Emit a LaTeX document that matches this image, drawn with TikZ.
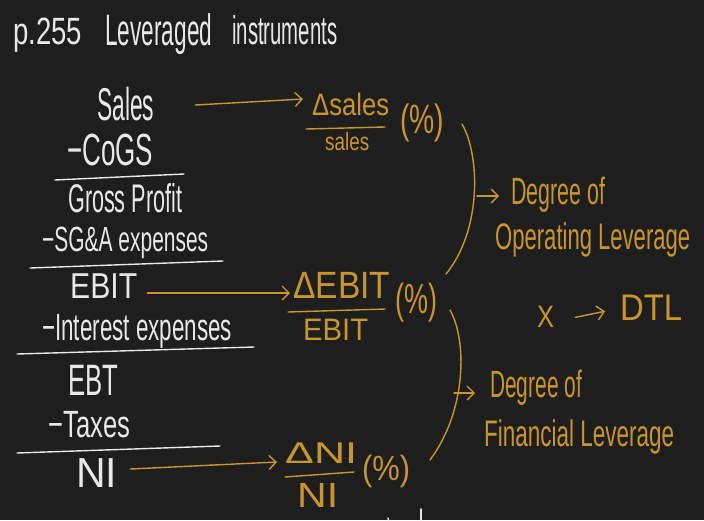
\documentclass[tikz,border=0pt]{standalone}
\usepackage{fontspec}
\setmainfont{Liberation Sans}
\usepackage{graphicx}
\usetikzlibrary{arrows.meta}
\definecolor{bg}{RGB}{30,30,30}
\definecolor{ink}{RGB}{232,232,232}
\definecolor{gold}{RGB}{201,150,43}
\newcommand\hw[2]{\resizebox{#1pt}{\height}{#2}}
\newcommand\fs[1]{\fontsize{#1}{#1}\selectfont}
\begin{document}
\begin{tikzpicture}[x=1pt,y=-1pt,
  wt/.style={inner sep=0pt,anchor=base west,text=ink},
  gt/.style={inner sep=0pt,anchor=base west,text=gold},
  wline/.style={draw=ink,line width=1.4pt,line cap=round},
  gline/.style={draw=gold,line width=1.4pt,line cap=round},
  garr/.style={gline,-{Straight Barb[length=7pt,width=14pt]}},
]
\fill[bg] (0,0) rectangle (704,520);
\useasboundingbox (0,0) rectangle (704,520);

% title
\node[wt,font=\fs{38}] (pg) at (13,44) {\hw{69}{p.255}};
\node[wt,font=\fs{44}] (lev) at (105,45) {\hw{107}{Leveraged}};
\node[wt,font=\fs{40}] (ins) at (232,44) {\hw{105}{instruments}};

% income statement
\node[wt,font=\fs{46}] (sales) at (97,120) {\hw{57}{Sales}};
\node[wt,font=\fs{45}] (cogs) at (67,165) {\hw{86}{−CoGS}};
\draw[wline] (55,180) -- (184,174);
\node[wt,font=\fs{40}] (gp) at (68,212) {\hw{114}{Gross Profit}};
\node[wt,font=\fs{35}] (sga) at (42,251) {\hw{166}{−SG\&A expenses}};
\draw[wline] (30,268) -- (223,261);
\node[wt,font=\fs{36}] (ebit) at (70,298) {\hw{67}{EBIT}};
\node[wt,font=\fs{38}] (intexp) at (42,340) {\hw{190}{−Interest expenses}};
\draw[wline] (17,354) -- (254,347);
\node[wt,font=\fs{44}] (ebt) at (68,395) {\hw{50}{EBT}};
\node[wt,font=\fs{38}] (tax) at (48,437) {\hw{82}{−Taxes}};
\draw[wline] (17,453) -- (220,446);
\node[wt,font=\fs{42}] (ni) at (76,487) {\hw{41}{NI}};

% sales ratio
\node[gt,font=\fs{31}] (dsales) at (312,115) {\hw{77}{Δsales}};
\draw[gline] (306,129) -- (385,127);
\node[gt,font=\fs{25}] (salesd) at (325,150) {\hw{44}{sales}};
\node[gt,font=\fs{41}] (pc1) at (400,133) {\hw{44}{(\%)}};

% EBIT ratio
\node[gt,font=\fs{38}] (debit) at (293,298) {\hw{97}{ΔEBIT}};
\draw[gline] (288,312) -- (385,309);
\node[gt,font=\fs{31}] (ebitd) at (303,340) {\hw{65}{EBIT}};
\node[gt,font=\fs{42}] (pc2) at (395,313) {\hw{42}{(\%)}};

% NI ratio
\node[gt,font=\fs{30}] (dni) at (285,463) {\hw{72}{ΔNI}};
\draw[gline] (285,477) -- (354,472);
\node[gt,font=\fs{35}] (nid) at (297,507) {\hw{41}{NI}};
\node[gt,font=\fs{35}] (pc3) at (362,480) {\hw{48}{(\%)}};

% arrows from statement
\draw[garr] ([xshift=41pt,yshift=15pt]sales.base east) -- ([xshift=-9pt,yshift=16pt]dsales.base west);
\draw[garr] ([xshift=10pt,yshift=5pt]ebit.base east) -- ([xshift=-3pt,yshift=5pt]debit.base west);
\draw[garr] ([xshift=13pt,yshift=18pt]ni.base east) -- ([xshift=-8pt,yshift=1pt]dni.base west);

% DOL
\draw[gline] (462,124) .. controls (480,155) and (482,230) .. (446,274);
\coordinate (b1) at (477,196);
\node[gt,font=\fs{38}] (dol1) at (511,204) {\hw{94}{Degree of}};
\node[gt,font=\fs{37}] (dol2) at (495,249) {\hw{195}{Operating Leverage}};
\draw[garr] (b1) -- ([xshift=-12pt,yshift=8pt]dol1.base west);

% DFL
\draw[gline] (450,310) .. controls (467,340) and (467,410) .. (430,460);
\coordinate (b2) at (454,393);
\node[gt,font=\fs{38}] (dfl1) at (490,397) {\hw{92}{Degree of}};
\node[gt,font=\fs{37}] (dfl2) at (484,446) {\hw{190}{Financial Leverage}};
\draw[garr] (b2) -- ([xshift=-15pt,yshift=4pt]dfl1.base west);

% DTL
\node[gt,font=\fs{31}] (xx) at (537,327) {\hw{17}{X}};
\node[gt,font=\fs{37}] (dtl) at (620,320) {\hw{62}{DTL}};
\draw[garr] ([xshift=21pt,yshift=-1pt]xx.east) -- ([xshift=-15pt,yshift=-4pt]dtl.west);

% cut-off strokes at bottom
\draw[wline] (421,509) -- (421,520);
\draw[wline] (388,518) -- (388.5,520);
\end{tikzpicture}
\end{document}
